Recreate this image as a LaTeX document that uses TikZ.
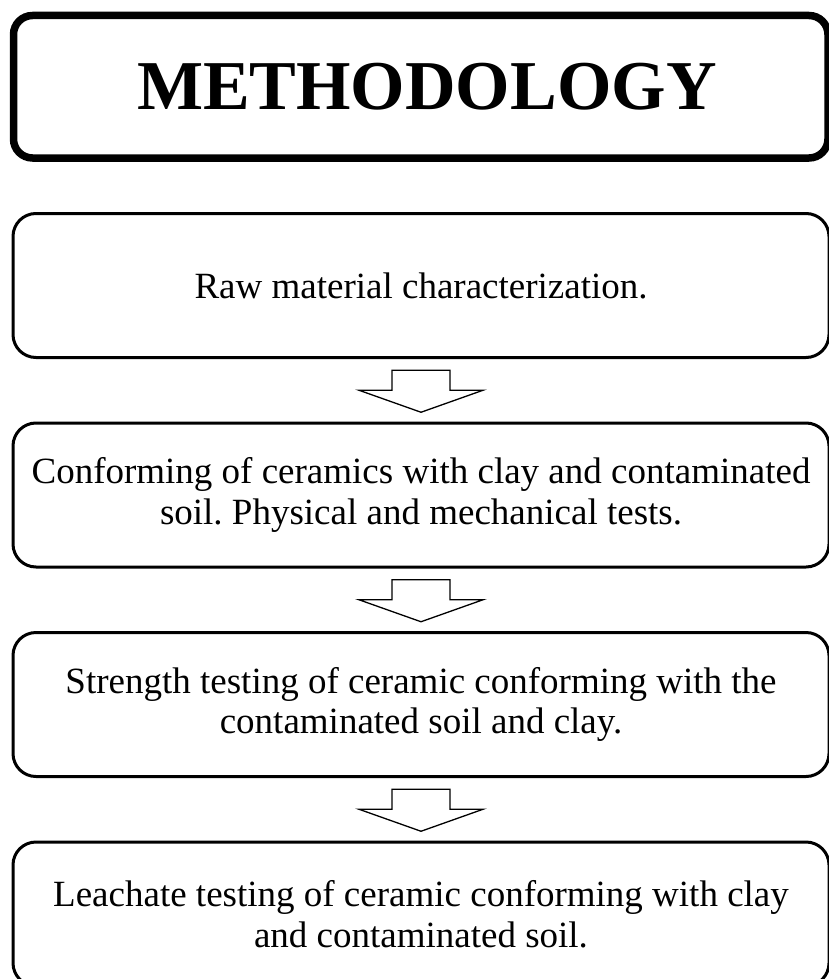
\documentclass[tikz,border=0pt]{standalone}
\usepackage{fontspec}
\setmainfont{Liberation Serif}
\frenchspacing
\usetikzlibrary{calc}
\begin{document}
\begin{tikzpicture}[x=1pt,y=-1pt,
  titlebox/.style={draw=black, line width=7.5pt, rounded corners=19pt, minimum width=814.5pt, minimum height=142.5pt, inner sep=0pt, font=\fontsize{70}{80}\selectfont\bfseries},
  stepbox/.style={draw=black, line width=3pt, rounded corners=23pt, minimum width=816pt, minimum height=144pt, inner sep=0pt, align=center, font=\fontsize{37}{40.5}\selectfont},
  flowarrow/.style={draw=black, line width=1.3pt, fill=white, line join=miter}
]
\useasboundingbox (0,0) rectangle (828,979);
\node[titlebox] (title) at (420.75,86.75) {\hspace*{12pt}METHODOLOGY};
\node[stepbox] (s1) at (421,285.5) {Raw material characterization.};
\node[stepbox] (s2) at (421,495) {Conforming of ceramics with clay and contaminated\\soil. Physical and mechanical tests.};
\node[stepbox] (s3) at (421,704.5) {Strength testing of ceramic conforming with the\\contaminated soil and clay.};
\node[stepbox] (s4) at (421,914) {Leachate testing of ceramic conforming with clay\\and contaminated soil.};
\foreach \a/\b in {s1/s2,s2/s3,s3/s4}{
  \path ($(\a.south)!0.5!(\b.north)$) coordinate (m);
  \draw[flowarrow] ([shift={(-29,-20)}]m) -- ([shift={(29,-20)}]m) -- ([shift={(29,0)}]m) -- ([shift={(62,0)}]m) -- ([shift={(0,22)}]m) -- ([shift={(-62,0)}]m) -- ([shift={(-29,0)}]m) -- cycle;
}
\end{tikzpicture}
\end{document}
